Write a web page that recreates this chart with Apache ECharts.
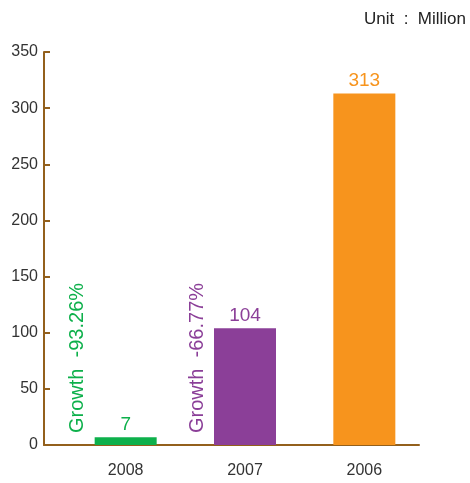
<!DOCTYPE html>
<html>
<head>
<meta charset="utf-8">
<script src="https://cdn.jsdelivr.net/npm/echarts@6/dist/echarts.min.js"></script>
<style>
  html, body { margin: 0; padding: 0; background: #fff; }
  #chart { width: 470px; height: 483px; }
</style>
</head>
<body>
<div id="chart"></div>
<script>
// Yearly totals (millions) and year-on-year growth notes
const years = ['2008', '2007', '2006'];
const totals = [7, 104, 313];
const growth = ['Growth  -93.26%', 'Growth  -66.77%', ''];
const barColors = ['#0db04b', '#8b3f98', '#f7941d'];
const yTicks = { min: 0, max: 350, interval: 50 };
const unitText = 'Unit  :  Million';

const axisColor = '#93601c';
const font = 'Liberation Sans, Arial, Helvetica, sans-serif';

const chart = echarts.init(document.getElementById('chart'));
chart.setOption({
  animation: false,
  title: {
    text: unitText,
    right: 4, top: 11, padding: 0,
    textStyle: { fontFamily: font, fontSize: 17, fontWeight: 'normal', color: '#222' }
  },
  grid: [
    { left: 44, right: 51, top: 52, bottom: 38 },
    { left: 66, right: 46, top: 52, bottom: 38 }
  ],
  xAxis: [
    {
      gridIndex: 0, type: 'category', data: years,
      axisLine: { lineStyle: { color: axisColor, width: 2 } },
      axisTick: { show: false }, axisLabel: { show: false }
    },
    {
      gridIndex: 1, type: 'category', data: years,
      axisLine: { show: false }, axisTick: { show: false },
      axisLabel: { fontFamily: font, fontSize: 16, color: '#333', margin: 18 }
    }
  ],
  yAxis: [
    {
      gridIndex: 0, type: 'value', ...yTicks,
      axisLine: { show: true, lineStyle: { color: axisColor, width: 2 } },
      axisTick: { show: true, inside: true, length: 6, lineStyle: { color: axisColor, width: 2 } },
      axisLabel: { fontFamily: font, fontSize: 16, color: '#333', margin: 6 },
      splitLine: { show: false }
    },
    {
      gridIndex: 1, type: 'value', ...yTicks, show: false
    }
  ],
  series: [
    {
      type: 'bar', xAxisIndex: 1, yAxisIndex: 1,
      barWidth: 62,
      data: totals.map((v, i) => ({
        value: v,
        itemStyle: { color: barColors[i] },
        label: { color: barColors[i] }
      })),
      label: {
        show: true, position: 'top', distance: 3,
        fontFamily: font, fontSize: 19
      }
    }
  ]
});

// Rotated growth notes, anchored just left of each bar's base
const notes = [];
growth.forEach((g, i) => {
  if (!g) return;
  const [cx, cy] = chart.convertToPixel({ xAxisIndex: 1, yAxisIndex: 1 }, [i, 0]);
  notes.push({
    type: 'text',
    x: cx - 48, y: cy - 12,
    rotation: Math.PI / 2,
    style: {
      text: g, fill: barColors[i],
      font: '20px ' + font,
      align: 'left', verticalAlign: 'middle'
    }
  });
});
chart.setOption({ graphic: notes });
</script>
</body>
</html>
